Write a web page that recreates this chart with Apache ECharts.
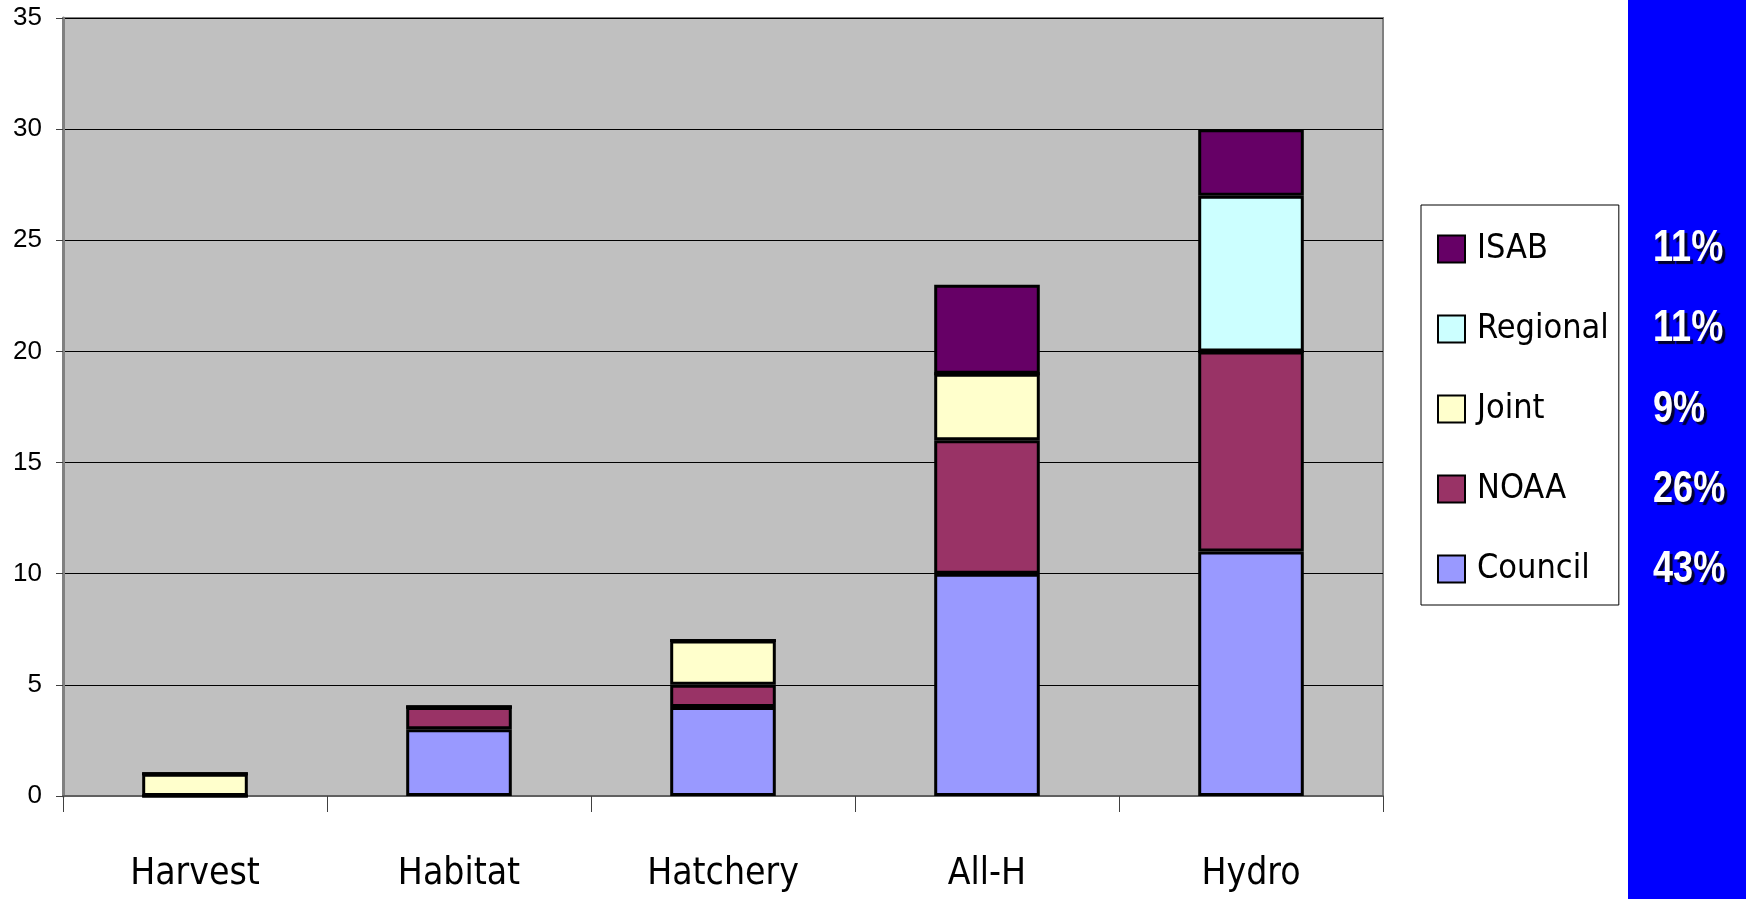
<!DOCTYPE html>
<html>
<head>
<meta charset="utf-8">
<script src="https://cdn.jsdelivr.net/npm/echarts@6/dist/echarts.min.js"></script>
<style>
html,body{margin:0;padding:0;background:#fff;}
#c{width:1746px;height:899px;}
</style>
</head>
<body>
<div id="c"></div>
<script>
const categories = ['Harvest', 'Habitat', 'Hatchery', 'All-H', 'Hydro'];
const council  = [0, 3, 4, 10, 11];
const noaa     = [0, 1, 1, 6, 9];
const joint    = [1, 0, 2, 3, 0];
const regional = [0, 0, 0, 0, 7];
const isab     = [0, 0, 0, 4, 3];
const legendOrder = ['ISAB', 'Regional', 'Joint', 'NOAA', 'Council'];
const yTicks = [0, 5, 10, 15, 20, 25, 30, 35];

const seriesDefs = [
  {name: 'Council', data: council, color: '#9999FF'},
  {name: 'NOAA', data: noaa, color: '#993366'},
  {name: 'Joint', data: joint, color: '#FFFFCC'},
  {name: 'Regional', data: regional, color: '#CCFFFF'},
  {name: 'ISAB', data: isab, color: '#660066'}
];
const sum = a => a.reduce((s, v) => s + v, 0);
const grand = sum(seriesDefs.map(s => sum(s.data)));
const pct = {};
seriesDefs.forEach(s => { pct[s.name] = Math.round(sum(s.data) / grand * 100) + '%'; });

const narrow = '"DejaVu Sans Condensed", "Liberation Sans", sans-serif';
const chart = echarts.init(document.getElementById('c'));
const pctY = [249, 329, 410, 490, 570];
chart.setOption({
  animation: false,
  backgroundColor: '#ffffff',
  grid: {left: 63, right: 363, top: 18, bottom: 103, show: true,
         backgroundColor: '#C0C0C0', borderColor: '#808080', borderWidth: 2},
  xAxis: {
    type: 'category', data: categories,
    axisLine: {lineStyle: {color: '#606060', width: 2}},
    axisTick: {show: true, alignWithLabel: false, length: 16, lineStyle: {color: '#404040', width: 1}},
    axisLabel: {fontFamily: narrow, fontSize: 37, color: '#000', margin: 60}
  },
  yAxis: {
    type: 'value', min: yTicks[0], max: yTicks[yTicks.length - 1], interval: 5,
    axisLine: {show: true, lineStyle: {color: '#808080', width: 3}},
    axisTick: {show: true, length: 7, lineStyle: {color: '#404040', width: 1}},
    axisLabel: {fontFamily: '"Liberation Sans", sans-serif', fontSize: 26, color: '#000', margin: 21},
    splitLine: {show: true, lineStyle: {color: '#000', width: 1}}
  },
  legend: {
    orient: 'vertical', left: 1421, top: 205,
    data: legendOrder, icon: 'rect', itemWidth: 27, itemHeight: 27, itemGap: 40,
    padding: [24, 10, 16, 16],
    borderColor: '#000', borderWidth: 1, backgroundColor: '#fff',
    textStyle: {fontFamily: narrow, fontSize: 34, color: '#000', lineHeight: 40, padding: [0, 0, 0, 7]},
    selectedMode: false
  },
  graphic: [
    {type: 'rect', left: 1628, top: 0, z: -10, shape: {width: 118, height: 899}, style: {fill: '#0000FF'}}
  ].concat(legendOrder.map((n, i) => ({
    type: 'text', x: 1653, y: pctY[i], scaleX: 0.82, z: 10,
    style: {x: 0, y: 0, text: pct[n], fill: '#fff', font: 'bold 44px "Liberation Sans", sans-serif',
            verticalAlign: 'middle', align: 'left',
            textShadowColor: '#000030', textShadowOffsetX: 3, textShadowOffsetY: 3, textShadowBlur: 1}
  }))),
  series: seriesDefs.map(s => ({
    name: s.name, type: 'bar', stack: 'total', data: s.data, barWidth: '40%',
    itemStyle: {color: s.color, borderColor: '#000', borderWidth: 3}
  }))
});
</script>
</body>
</html>
